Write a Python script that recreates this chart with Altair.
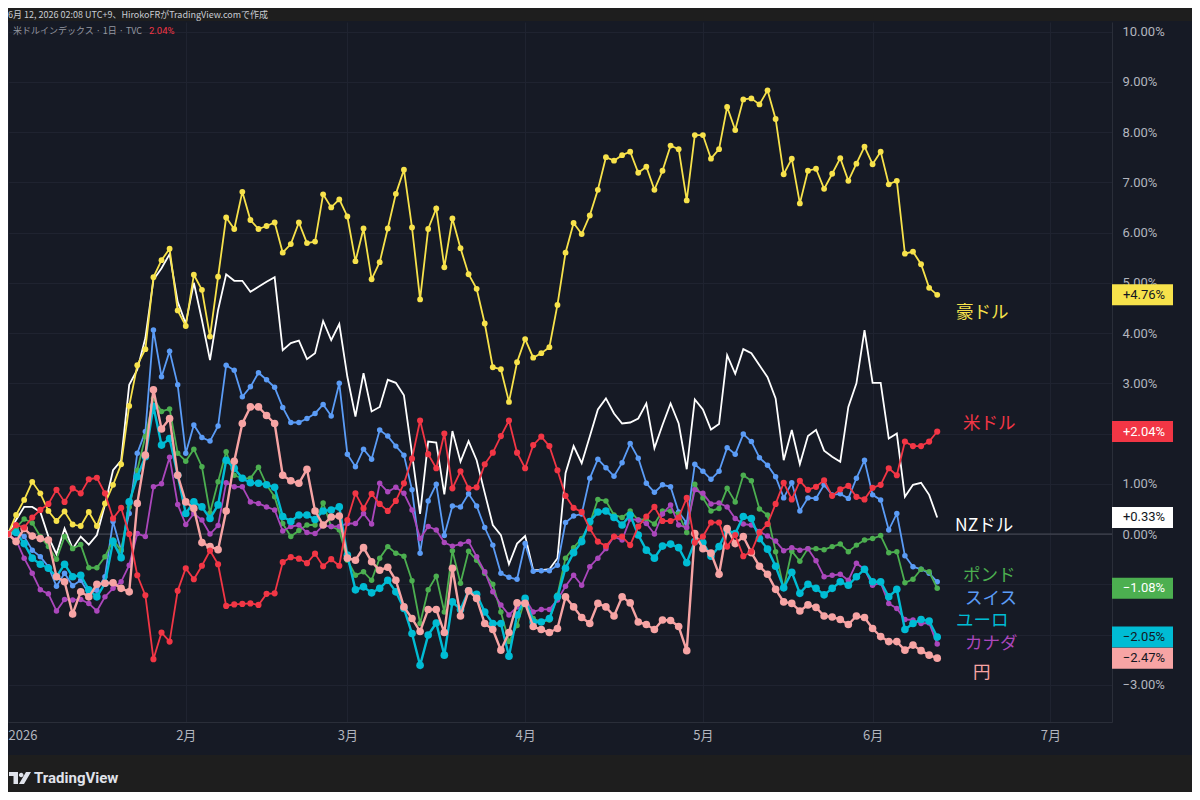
import altair as alt
import pandas as pd

# ---------------- data (bar index = trading day since 2026-01-01) ----------------
bars = list(range(116))

aud = [0, 0.38, 0.68, 1.04, 0.81, 0.46, 0.26, 0.45, 0.19, 0.16,
       0.44, 0.16, 0.61, 0.98, 1.39, 2.55, 3.36, 3.68, 5.11, 5.45,
       5.68, 4.45, 4.14, 5.16, 4.86, 3.93, 5.12, 6.30, 6.07, 6.81,
       6.25, 6.07, 6.13, 6.20, 5.60, 5.77, 6.20, 5.79, 5.82, 6.76,
       6.50, 6.66, 6.32, 5.43, 6.08, 5.07, 5.41, 6.08, 6.77, 7.25,
       6.10, 4.67, 6.07, 6.48, 5.31, 6.28, 5.69, 5.17, 4.88, 4.19,
       3.32, 3.28, 2.63, 3.42, 3.88, 3.51, 3.60, 3.72, 4.56, 5.60,
       6.19, 5.97, 6.34, 6.85, 7.50, 7.43, 7.54, 7.61, 7.19, 7.31,
       6.85, 7.23, 7.73, 7.66, 6.64, 7.94, 7.94, 7.47, 7.66, 8.50,
       8.04, 8.65, 8.67, 8.55, 8.83, 8.26, 7.16, 7.47, 6.58, 7.23,
       7.27, 6.87, 7.17, 7.48, 7.03, 7.37, 7.71, 7.36, 7.61, 6.96,
       7.03, 5.58, 5.62, 5.37, 4.90, 4.76]

nzd = [0, 0.28, 0.54, 0.54, 0.44, -0.05, -0.40, 0.11, -0.29, -0.05,
       -0.21, -0.02, 0.58, 1.27, 1.46, 2.97, 3.27, 3.90, 5.06, 5.29,
       5.57, 4.62, 4.19, 5.00, 4.26, 3.46, 4.46, 5.17, 5.04, 5.04,
       4.82, 4.92, 5.02, 5.11, 3.66, 3.80, 3.85, 3.48, 3.60, 4.24,
       3.86, 4.18, 3.13, 2.34, 3.20, 2.44, 2.53, 3.07, 3.01, 2.76,
       1.60, 0.40, 1.84, 1.82, 0.79, 2.05, 1.44, 1.85, 1.47, 0.82,
       0.18, -0.02, -0.60, -0.19, -0.04, -0.72, -0.72, -0.70, -0.48, 1.21,
       1.75, 1.41, 1.94, 2.48, 2.70, 2.40, 2.20, 2.22, 2.30, 2.60,
       1.71, 2.17, 2.60, 2.20, 1.29, 2.68, 2.48, 2.08, 2.19, 3.56,
       3.19, 3.68, 3.60, 3.36, 3.12, 2.70, 1.47, 2.07, 1.39, 1.95,
       2.07, 1.66, 1.54, 1.44, 2.53, 3.00, 4.06, 3.01, 3.01, 1.90,
       2.00, 0.74, 0.98, 1.02, 0.78, 0.33]

usd = [0, 0.18, 0.13, 0.33, 0.48, 0.60, 0.88, 0.64, 0.91, 0.81,
       1.09, 1.12, 0.81, 0.31, 0.52, 0.00, -0.82, -1.22, -2.49, -1.96,
       -2.14, -1.13, -0.68, -0.90, -0.63, -0.33, -0.60, -1.43, -1.40, -1.39,
       -1.38, -1.41, -1.19, -1.18, -0.56, -0.46, -0.49, -0.58, -0.39, -0.64,
       -0.50, -0.63, 0.28, 0.81, 0.51, 0.80, 0.60, 0.46, 0.66, 1.01,
       1.50, 2.26, 1.59, 1.31, 2.00, 0.91, 1.25, 0.91, 0.93, 1.39,
       1.62, 1.95, 2.26, 1.62, 1.31, 1.77, 1.94, 1.75, 1.27, 0.76,
       0.52, 0.44, 0.11, -0.15, -0.24, -0.05, -0.05, -0.22, 0.15, 0.35,
       0.54, 0.26, 0.26, 0.33, 0.72, -0.17, -0.05, 0.23, 0.23, -0.25,
       -0.02, -0.44, -0.35, 0.03, 0.20, 0.60, 1.02, 0.69, 1.06, 0.88,
       0.94, 1.07, 0.76, 0.89, 0.96, 0.74, 0.69, 0.92, 0.98, 1.31,
       1.17, 1.84, 1.75, 1.75, 1.84, 2.04]

chf = [0, 0.08, -0.05, -0.32, -0.45, -0.65, -1.04, -0.78, -1.03, -0.92,
       -1.18, -1.12, -0.85, 0.25, -0.32, 0.41, 1.61, 2.04, 4.06, 3.13,
       3.64, 2.97, 1.61, 2.17, 1.92, 1.85, 2.15, 3.36, 3.26, 2.73,
       2.93, 3.21, 3.07, 2.92, 2.52, 2.22, 2.22, 2.30, 2.40, 2.58,
       2.35, 3.00, 1.59, 1.34, 1.69, 1.49, 2.07, 1.95, 1.75, 1.57,
       0.88, -0.38, 0.66, 0.99, -0.03, 0.56, 0.54, 0.80, 0.56, 0.13,
       -0.22, -0.78, -0.86, -0.90, -0.19, -0.74, -0.73, -0.73, -0.62, 0.23,
       0.36, 0.40, 1.11, 1.49, 1.32, 1.15, 1.42, 1.80, 1.51, 1.01,
       0.83, 0.98, 0.94, 0.44, 0.22, 1.39, 1.25, 1.09, 1.25, 1.72,
       1.59, 1.99, 1.84, 1.52, 1.37, 1.14, 0.72, 1.02, 0.46, 0.72,
       0.71, 0.98, 0.78, 0.80, 0.71, 1.11, 1.47, 0.78, 0.68, 0.08,
       0.41, -0.43, -0.65, -0.70, -0.78, -0.95]

gbp = [0, 0.13, 0.30, 0.22, -0.05, -0.25, -0.50, -0.05, -0.29, -0.21,
       -0.67, -0.67, -0.45, -0.12, -0.32, 0.54, 1.27, 1.94, 2.70, 2.44,
       2.49, 1.61, 1.45, 1.69, 1.34, 0.42, 1.04, 1.64, 1.17, 1.11,
       1.11, 1.33, 0.98, 0.74, 0.21, -0.05, 0.07, 0.18, 0.18, 0.62,
       0.15, 0.08, -0.52, -0.82, -0.75, -0.92, -0.48, -0.25, -0.38, -0.44,
       -0.93, -1.78, -1.11, -0.84, -1.55, -0.33, -0.98, -0.34, -0.52, -0.78,
       -1.00, -1.55, -2.14, -1.82, -1.28, -1.68, -1.75, -1.71, -1.21, -0.48,
       -0.27, -0.09, 0.21, 0.69, 0.66, 0.38, 0.33, 0.46, 0.28, 0.30,
       0.20, 0.46, 0.46, 0.40, 0.03, 0.99, 0.72, 0.46, 0.51, 0.91,
       0.64, 1.17, 1.06, 0.50, 0.38, -0.35, -1.08, -0.34, -0.54, -0.29,
       -0.29, -0.31, -0.25, -0.20, -0.35, -0.22, -0.12, -0.09, -0.03, -0.37,
       -0.35, -0.97, -0.90, -0.70, -0.75, -1.08]

eur = [0, 0.03, -0.19, -0.48, -0.60, -0.68, -0.85, -0.60, -0.85, -0.82,
       -1.11, -1.25, -0.98, -0.15, -0.47, 0.64, 1.14, 1.54, 2.54, 1.77,
       1.90, 1.17, 0.41, 0.64, 0.54, 0.31, 0.58, 1.47, 1.31, 1.11,
       1.02, 1.01, 0.98, 0.93, 0.35, 0.25, 0.38, 0.38, 0.29, 0.46,
       0.48, 0.54, -0.42, -1.11, -1.05, -1.17, -1.08, -0.92, -1.15, -1.48,
       -1.98, -2.61, -2.01, -1.77, -2.41, -1.35, -1.50, -1.13, -1.20, -1.55,
       -1.78, -1.78, -2.43, -1.61, -1.28, -1.75, -1.75, -1.68, -1.25, -0.68,
       -0.37, -0.15, 0.25, 0.44, 0.46, 0.33, 0.18, 0.38, -0.02, -0.32,
       -0.48, -0.24, -0.20, -0.27, -0.57, -0.15, -0.17, -0.44, -0.25, 0.08,
       0.01, 0.35, 0.31, -0.09, -0.30, -0.64, -1.07, -0.76, -1.18, -1.00,
       -1.08, -1.21, -1.08, -0.95, -1.02, -0.85, -0.70, -0.95, -0.95, -1.25,
       -1.10, -1.90, -1.78, -1.70, -1.73, -2.05]

cad = [0, -0.12, -0.48, -0.78, -1.11, -1.19, -1.53, -1.30, -1.31, -1.30,
       -1.38, -1.53, -1.25, -1.08, -0.95, -0.62, 0.01, -0.05, 0.94, 1.00,
       1.53, 0.59, 0.19, 0.41, 0.28, 0.00, 0.17, 1.02, 0.94, 0.94,
       0.64, 0.61, 0.54, 0.48, 0.06, 0.15, 0.18, 0.03, 0.01, 0.17,
       0.15, 0.15, 0.21, 0.21, 0.41, 0.20, 1.01, 0.84, 0.93, 0.81,
       0.48, -0.09, 0.15, 0.08, -0.17, -0.24, -0.20, -0.15, -0.45, -0.75,
       -1.15, -1.41, -1.61, -1.45, -1.28, -1.55, -1.50, -1.50, -1.31, -1.04,
       -0.82, -1.02, -0.65, -0.48, -0.29, -0.05, -0.12, 0.30, 0.28, 0.21,
       0.00, 0.40, 0.58, 0.18, 0.13, 0.88, 0.81, 0.60, 0.62, 0.54,
       0.31, 0.20, 0.18, 0.05, -0.04, -0.14, -0.33, -0.27, -0.32, -0.29,
       -0.53, -0.85, -0.82, -0.80, -0.92, -0.58, -0.70, -1.02, -0.97, -1.38,
       -1.48, -1.70, -1.71, -1.78, -1.77, -2.19]

jpy = [0, -0.15, 0.11, -0.04, -0.09, -0.12, -0.85, -0.95, -1.59, -1.15,
       -1.25, -1.00, -0.98, -0.97, -1.08, -1.15, 0.61, 1.57, 2.87, 2.09,
       2.30, 1.17, 0.64, 0.51, -0.17, -0.25, -0.31, 0.46, 1.45, 2.20,
       2.53, 2.53, 2.36, 2.20, 1.17, 1.06, 1.01, 1.29, 0.46, 0.18,
       0.34, 0.36, -0.48, -0.52, -0.27, -0.55, -0.72, -0.66, -0.92, -1.45,
       -1.68, -1.94, -1.50, -1.50, -1.96, -0.68, -1.63, -1.13, -1.28, -1.78,
       -1.90, -2.31, -1.96, -1.37, -1.38, -1.84, -1.90, -1.96, -1.88, -1.25,
       -1.45, -1.66, -1.78, -1.38, -1.45, -1.63, -1.25, -1.37, -1.75, -1.80,
       -1.90, -1.71, -1.72, -1.84, -2.32, 0.01, -0.29, -0.38, -0.80, 0.11,
       -0.19, -0.05, -0.37, -0.64, -0.80, -1.10, -1.35, -1.38, -1.53, -1.41,
       -1.46, -1.63, -1.65, -1.70, -1.80, -1.63, -1.66, -1.88, -2.04, -2.14,
       -2.14, -2.31, -2.21, -2.32, -2.41, -2.47]

month_ticks = [0, 22, 42, 64, 86, 107, 129]
month_labels = ["2026", "2月", "3月", "4月", "5月", "6月", "7月"]
pct_ticks = list(range(-3, 11))
pct_labelled = [-3, 0, 1, 3, 4, 5, 6, 7, 8, 9, 10]

header_text = "6月 12, 2026 02:08 UTC+9、HirokoFRがTradingView.comで作成"
legend_text = "米ドルインデックス · 1日 · TVC"

for arr in (aud, nzd, usd, chf, gbp, eur, cad, jpy):
    assert len(arr) == len(bars), len(arr)

# ---------------- styling ----------------
W, H = 1104, 700
BG = "#161a25"
FRAME = "#1e1e1e"
TXT = "#b2b5be"
GRID = "#1f2330"
JP = "Noto Sans CJK JP"

# name, values, color, line width, dot size, box text colour (None = no box), label px pos
series = [
    ("NZドル", nzd, "#ffffff", 1.8, 0, "#131722", (947, 504)),
    ("豪ドル", aud, "#f7e24b", 1.8, 34, "#131722", (948, 291)),
    ("スイス", chf, "#5b9cf6", 1.8, 30, None, (957, 576.5)),
    ("ポンド", gbp, "#4caf50", 1.8, 30, "#ffffff", (955, 554)),
    ("カナダ", cad, "#ab47bc", 1.8, 30, None, (957, 622)),
    ("ユーロ", eur, "#00bcd4", 2.4, 58, "#131722", (948, 599)),
    ("円", jpy, "#f7a4a4", 2.4, 58, "#131722", (965, 651)),
    ("米ドル", usd, "#f23645", 1.8, 38, "#ffffff", (955, 402)),
]

label_expr = " : ".join(
    f"datum.value == {t} ? '{l}'" for t, l in zip(month_ticks, month_labels)
) + " : ''"
y_label_expr = (f"indexof({pct_labelled}, datum.value) >= 0 ? "
                "format(datum.value, '.2f') + '%' : ''")

X = alt.X(
    "bar:Q",
    scale=alt.Scale(domain=[0, 136.63], nice=False, zero=False),
    axis=alt.Axis(values=month_ticks, labelExpr=label_expr, title=None,
                  grid=True, gridColor=GRID, ticks=False, domain=True,
                  domainColor="#2a2e39", labelColor=TXT, labelFont=JP,
                  labelFontSize=13, labelPadding=7, labelFlush=6,
                  labelOverlap=False),
)
Y = alt.Y(
    "v:Q",
    scale=alt.Scale(domain=[-3.74, 10.19], nice=False, zero=False),
    axis=alt.Axis(orient="right", values=pct_ticks, labelExpr=y_label_expr,
                  title=None, grid=True, gridColor=GRID, ticks=False,
                  domain=True, domainColor="#2a2e39", labelColor=TXT,
                  labelFont="Roboto", labelFontSize=13, labelPadding=10,
                  labelAlign="left", labelOverlap=False),
)

dummy = pd.DataFrame({"d": [0]})


def fixed_text(text, x, y, **kw):
    return alt.Chart(dummy).mark_text(text=text, **kw).encode(
        x=alt.value(x), y=alt.value(y))


layers = []
# outer TradingView frame strips (top and bottom)
layers.append(alt.Chart(dummy).mark_rect(color=FRAME).encode(
    x=alt.value(0), x2=alt.value(1184), y=alt.value(-14), y2=alt.value(-1)))
layers.append(alt.Chart(dummy).mark_rect(color=FRAME).encode(
    x=alt.value(0), x2=alt.value(1184), y=alt.value(733), y2=alt.value(770)))
# zero baseline
layers.append(alt.Chart(dummy).mark_rule(color="#4b4f5a", strokeWidth=1).encode(
    y=alt.datum(0)))

box_rows = []
for name, vals, col, lw, dot, tcol, _ in series:
    df = pd.DataFrame({"bar": bars, "v": vals})
    base = alt.Chart(df)
    layers.append(base.mark_line(color=col, strokeWidth=lw, clip=True).encode(x=X, y=Y))
    if dot:
        layers.append(base.mark_circle(color=col, size=dot, opacity=1, clip=True).encode(x=X, y=Y))
    if tcol:
        last = vals[-1]
        lbl = ("+" if last > 0 else "") + f"{last:.2f}%".replace("-", "\u2212")
        box_rows.append({"v": last, "fill": col, "tc": tcol, "lbl": lbl})

for name, vals, col, lw, dot, tcol, (lx, ly) in series:
    layers.append(fixed_text(name, lx, ly, color=col, font=JP, fontSize=17.5,
                             align="left", baseline="middle"))

box_df = pd.DataFrame(box_rows)
BOX = "M-1,-0.344 L1,-0.344 L1,0.344 L-1,0.344 Z"
layers.append(alt.Chart(box_df).mark_point(shape=BOX, size=3721, filled=True,
                                           opacity=1, strokeWidth=0).encode(
    x=alt.value(W + 30.5), y=Y, fill=alt.Fill("fill:N", scale=None)))
layers.append(alt.Chart(box_df).mark_text(font="Roboto", fontSize=13,
                                          align="center", baseline="middle").encode(
    x=alt.value(W + 32), y=Y, text="lbl:N", color=alt.Color("tc:N", scale=None)))

# header & legend
layers.append(fixed_text(header_text, 0, -7, color="#c9ccd3", font=JP, fontSize=9,
                         align="left", baseline="middle"))
layers.append(fixed_text(legend_text, 5, 9, color="#9598a1", font=JP, fontSize=9,
                         align="left", baseline="middle"))
layers.append(fixed_text(f"{usd[-1]:.2f}%", 141, 9, color="#f23645", font="Roboto",
                         fontSize=9.5, align="left", baseline="middle"))

# TradingView logo
LOGO = ("M-1,-0.545 H-0.182 V0.545 H-0.591 V-0.182 H-1 Z "
        "M-0.1,-0.273 A0.209,0.209 0 1,0 0.318,-0.273 A0.209,0.209 0 1,0 -0.1,-0.273 Z "
        "M0.545,-0.545 H1 L0.364,0.545 H-0.091 Z")
layers.append(alt.Chart(dummy).mark_point(shape=LOGO, size=484, filled=True, opacity=1,
                                          strokeWidth=0, fill="#e0e3eb").encode(
    x=alt.value(12), y=alt.value(756)))
layers.append(fixed_text("TradingView", 26, 756, color="#e0e3eb", font="Roboto",
                         fontSize=15, fontWeight="bold", align="left", baseline="middle"))

chart = alt.layer(*layers).properties(
    width=W, height=H,
    padding={"left": 0, "top": 14, "right": 80, "bottom": 70},
    autosize=alt.AutoSizeParams(type="none"),
    background=BG,
).configure_view(stroke=None)

chart.save("out.html", embed_options={"renderer": "svg", "actions": False})
